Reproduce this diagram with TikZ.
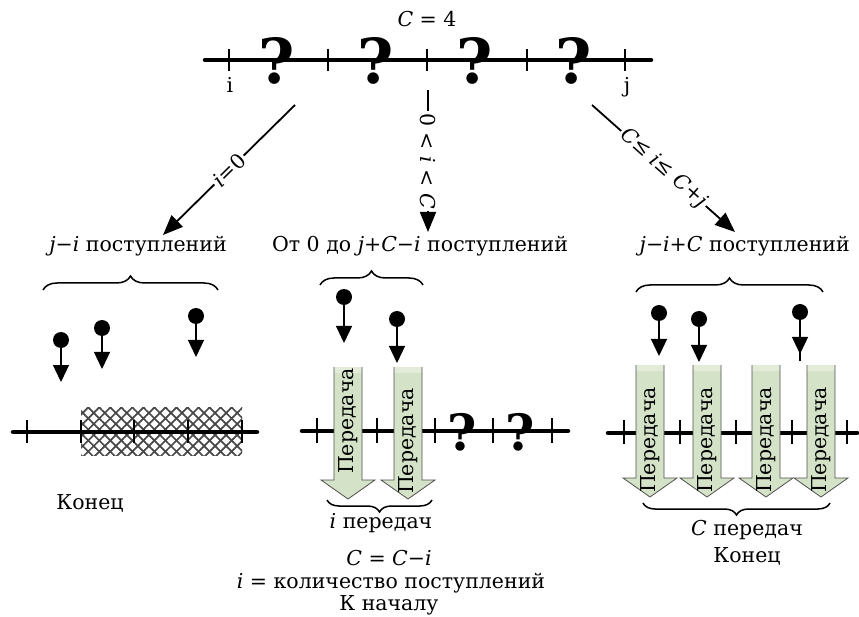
\documentclass[tikz,border=0pt]{standalone}
\usepackage{fontspec}
\setmainfont{DejaVu Serif}
\usetikzlibrary{arrows.meta,decorations.pathreplacing,patterns.meta}
\definecolor{arrowgreen}{RGB}{212,226,200}
\definecolor{arrowtop}{RGB}{226,236,216}
\definecolor{arrowedge}{RGB}{80,80,80}
\tikzset{
  txt/.style={font=\fontsize{20.5}{24}\selectfont, inner sep=0pt},
  axisline/.style={line width=4.5pt, line cap=round},
  tickline/.style={line width=1.8pt},
  bigq/.style={font=\fontsize{62}{62}\selectfont\bfseries, inner sep=0pt},
  smallq/.style={font=\fontsize{50}{50}\selectfont\bfseries, inner sep=0pt},
  flow/.style={line width=1.8pt, -{Triangle[width=16pt,length=20pt]}},
  cond/.style={txt, fill=white, inner sep=2pt},
  ball/.style={circle, fill=black, minimum size=16pt, inner sep=0pt},
  arrival/.style={line width=1.2pt, -{Triangle[width=16pt,length=17pt]}},
  braceup/.style={decorate, decoration={brace, amplitude=14pt}, line width=1.5pt},
  bracedown/.style={decorate, decoration={brace, amplitude=12pt, mirror}, line width=1.5pt},
  arrowbody/.style={fill=arrowgreen},
  arrowrim/.style={draw=arrowedge, line width=0.8pt},
}
\newcommand{\arrivalat}[4]{%
  \node[ball] (#1) at (#2,#3) {};
  \coordinate (#1t) at (#2,#4);
  \draw[arrival] (#1) -- (#1t);}
\newcommand{\blkarrow}[4]{%
  \fill[arrowbody] (#2-14,#3) -- (#2-14,#3+113) -- (#2-27,#3+113) -- (#2,#3+132)
     -- (#2+27,#3+113) -- (#2+14,#3+113) -- (#2+14,#3) -- cycle;
  \fill[arrowtop] (#2-14,#3) rectangle (#2+14,#3+6);
  \draw[arrowrim] (#2-14,#3) -- (#2-14,#3+113) -- (#2-27,#3+113) -- (#2,#3+132)
     -- (#2+27,#3+113) -- (#2+14,#3+113) -- (#2+14,#3);
  \node[txt, rotate=90] (#1) at (#2,#4) {Передача};}
\begin{document}
\begin{tikzpicture}[x=1pt, y=-1pt]
\useasboundingbox (0,0) rectangle (859,617);

% ---------- top ----------
\node[txt, anchor=base] (title) at (427,27) {\textit{C} = 4};
\draw[axisline] (205,60) -- (651,60);
\foreach \x in {229,328,427,527,625} \draw[tickline] (\x,49) -- (\x,71);
\foreach \x/\n in {277/q1,376/q2,475/q3,574/q4} \node[bigq] (\n) at (\x,61) {?};
\node[txt, anchor=base] (lbli) at (230,93) {i};
\node[txt, anchor=base] (lblj) at (627,93) {j};

% ---------- branch arrows ----------
\coordinate (s1) at (295,105); \coordinate (e1) at (163,235);
\coordinate (s2) at (428,90);  \coordinate (e2) at (428,232);
\coordinate (s3) at (592,105); \coordinate (e3) at (735,232);
\draw[flow] (s1) -- node[cond, rotate=44.6] (c1) {\textit{i}=0} (e1);
\draw[flow] (s2) -- node[cond, rotate=-90] (c2) {0 < \textit{i} < \textit{C}} (e2);
\draw[flow] (s3) -- node[cond, rotate=-41.6] (c3) {\textit{C}≤ \textit{i}≤ \textit{C}+\textit{j}} (e3);

% ---------- headings ----------
\node[txt, anchor=base] (h1) at (138,252) {\textit{j}−\textit{i} поступлений};
\node[txt, anchor=base] (h2) at (420,252) {От 0 до \textit{j}+\textit{C}−\textit{i} поступлений};
\node[txt, anchor=base east] (h3) at (850,252) {\textit{j}−\textit{i}+\textit{C} поступлений};

\draw[braceup] (43,290) -- (218,290);
\draw[braceup] (320,285) -- (423,285);
\draw[braceup] (636,292) -- (823,292);

% ---------- left panel ----------
\fill[pattern={Lines[angle=45,distance=7.8pt,line width=1.7pt]}, pattern color=black!72]
  (81,407) rectangle (242,455);
\fill[pattern={Lines[angle=-45,distance=7.8pt,line width=1.7pt]}, pattern color=black!72]
  (81,407) rectangle (242,455);
\draw[axisline] (13,432) -- (257,432);
\foreach \x in {27,81,134,188,242} \draw[tickline] (\x,420) -- (\x,443);
\arrivalat{la}{61}{340}{382}
\arrivalat{lb}{102}{328}{369}
\arrivalat{lc}{196}{316}{357}
\node[txt, anchor=base] (end1) at (90,509) {Конец};

% ---------- middle panel ----------
\draw[axisline] (302,431) -- (568,431);
\foreach \x in {317,377,435,493,552} \draw[tickline] (\x,418) -- (\x,443);
\node[smallq] (mq1) at (462,432) {?};
\node[smallq] (mq2) at (520,432) {?};
\blkarrow{ma}{348}{367}{421}
\blkarrow{mb}{408}{367}{441}
\arrivalat{ba}{344}{297}{343}
\arrivalat{bb}{397}{319}{363}
\draw[bracedown] (327,500) -- (432,500);
\node[txt, anchor=base] (itr) at (381,528) {\textit{i} передач};
\node[txt, anchor=base] (cc) at (389,565) {\textit{C} = \textit{C}−\textit{i}};
\node[txt, anchor=base] (ic) at (391,588) {\textit{i} = количество поступлений};
\node[txt, anchor=base] (back) at (389,610) {К началу};

% ---------- right panel ----------
\draw[axisline] (608,433) -- (857,433);
\foreach \x in {624,680,736,792,847} \draw[tickline] (\x,420) -- (\x,444);
\blkarrow{ra}{650}{365}{440}
\blkarrow{rb}{707}{365}{440}
\blkarrow{rc}{766}{365}{440}
\blkarrow{rd}{821}{365}{440}
\arrivalat{ca}{659}{313}{356}
\arrivalat{cb}{699}{319}{362}
\arrivalat{cd}{800}{312}{354}
\coordinate (cdx) at (800,361);
\draw[line width=1.2pt] (cd) -- (cdx);
\draw[bracedown] (643,503) -- (830,503);
\node[txt, anchor=base] (ctr) at (747,535) {\textit{C} передач};
\node[txt, anchor=base] (end2) at (747,562) {Конец};
\end{tikzpicture}
\end{document}
